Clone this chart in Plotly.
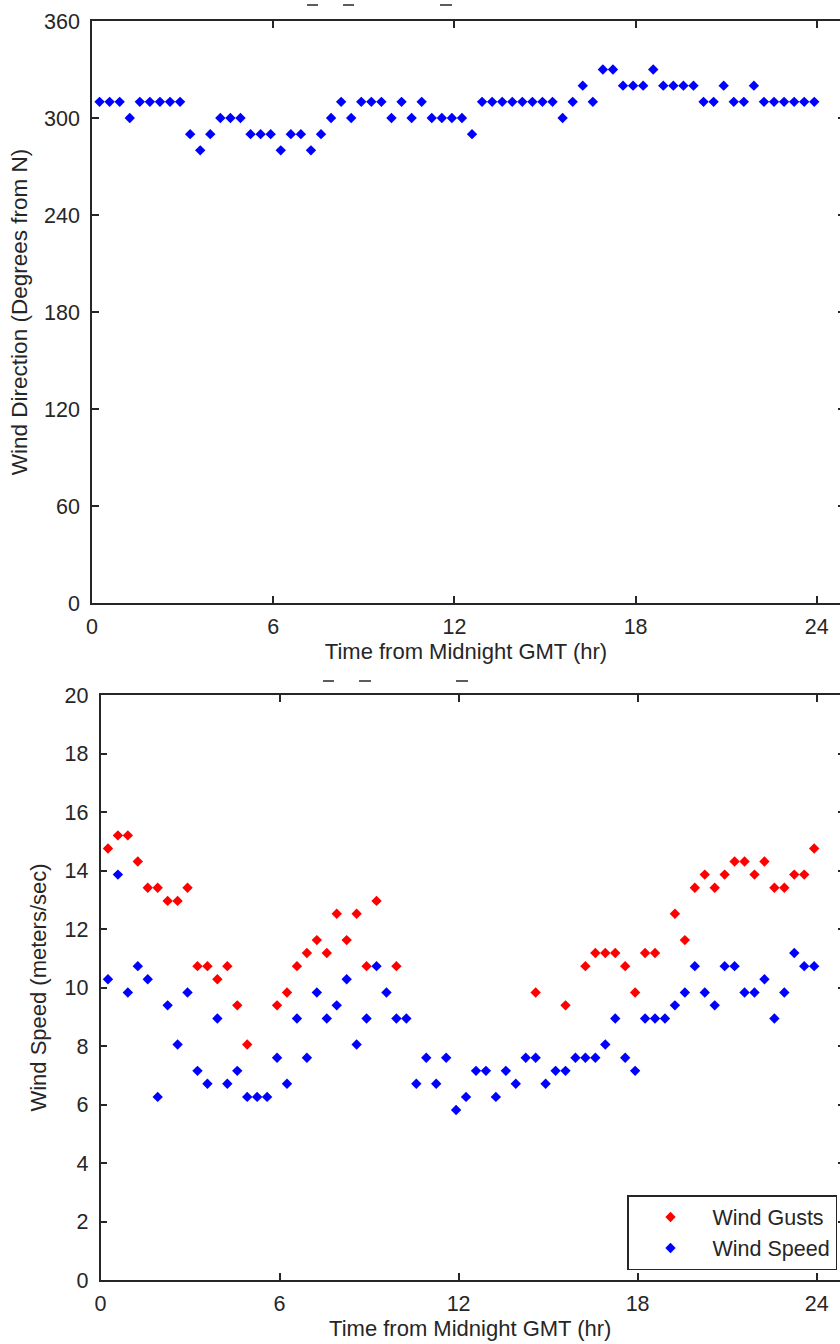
import plotly.graph_objects as go

# Observation times: three reports per hour, at :15, :35 and :55
HOURS = list(range(24))
OBS_MINUTES = [15, 35, 55]
time_hr = [h + m / 60 for h in HOURS for m in OBS_MINUTES]

# Wind direction (degrees from N)
wind_dir = [
    310, 310, 310, 300, 310, 310, 310, 310, 310, 290, 280, 290,
    300, 300, 300, 290, 290, 290, 280, 290, 290, 280, 290, 300,
    310, 300, 310, 310, 310, 300, 310, 300, 310, 300, 300, 300,
    300, 290, 310, 310, 310, 310, 310, 310, 310, 310, 300, 310,
    320, 310, 330, 330, 320, 320, 320, 330, 320, 320, 320, 320,
    310, 310, 320, 310, 310, 320, 310, 310, 310, 310, 310, 310,
]

# Sustained wind speed (m/s)
wind_speed = [
    10.28, 13.86, 9.83, 10.73, 10.28, 6.26, 9.39, 8.05, 9.83, 7.15, 6.71, 8.94,
    6.71, 7.15, 6.26, 6.26, 6.26, 7.60, 6.71, 8.94, 7.60, 9.83, 8.94, 9.39,
    10.28, 8.05, 8.94, 10.73, 9.83, 8.94, 8.94, 6.71, 7.60, 6.71, 7.60, 5.81,
    6.26, 7.15, 7.15, 6.26, 7.15, 6.71, 7.60, 7.60, 6.71, 7.15, 7.15, 7.60,
    7.60, 7.60, 8.05, 8.94, 7.60, 7.15, 8.94, 8.94, 8.94, 9.39, 9.83, 10.73,
    9.83, 9.39, 10.73, 10.73, 9.83, 9.83, 10.28, 8.94, 9.83, 11.18, 10.73, 10.73,
]

# Gusts (m/s); None where no gust was reported
wind_gust = [
    14.75, 15.20, 15.20, 14.31, 13.41, 13.41, 12.96, 12.96, 13.41, 10.73, 10.73, 10.28,
    10.73, 9.39, 8.05, None, None, 9.39, 9.83, 10.73, 11.18, 11.62, 11.18, 12.52,
    11.62, 12.52, 10.73, 12.96, None, 10.73, None, None, None, None, None, None,
    None, None, None, None, None, None, None, 9.83, None, None, 9.39, None,
    10.73, 11.18, 11.18, 11.18, 10.73, 9.83, 11.18, 11.18, None, 12.52, 11.62, 13.41,
    13.86, 13.41, 13.86, 14.31, 14.31, 13.86, 14.31, 13.41, 13.41, 13.86, 13.86, 14.75,
]

X_TICKS = [0, 6, 12, 18, 24]
DIR_TICKS = [0, 60, 120, 180, 240, 300, 360]
SPEED_TICKS = list(range(0, 21, 2))

W, H = 840, 1344
FONT = "Liberation Sans, Arial, sans-serif"
INK = "#262626"
TICK_SIZE = 21.5
TITLE_SIZE = 22
MARK = dict(symbol="diamond", size=8, line=dict(width=0))

fig = go.Figure()

fig.add_trace(go.Scatter(
    x=time_hr, y=wind_dir, mode="markers", xaxis="x", yaxis="y",
    marker=dict(color="#0000ff", **MARK), showlegend=False,
))
fig.add_trace(go.Scatter(
    x=time_hr, y=wind_gust, mode="markers", xaxis="x2", yaxis="y2",
    marker=dict(color="#ff0000", **MARK), name="Wind Gusts",
))
fig.add_trace(go.Scatter(
    x=time_hr, y=wind_speed, mode="markers", xaxis="x2", yaxis="y2",
    marker=dict(color="#0000ff", **MARK), name="Wind Speed",
))


def px_x(p):
    return p / W


def px_y(p):
    return 1 - p / H


axis_common = dict(
    showgrid=False, zeroline=False, showline=True, linecolor=INK, linewidth=1.5,
    ticks="inside", ticklen=7, tickcolor=INK, tickwidth=1.5, automargin=False,
    tickfont=dict(family=FONT, size=TICK_SIZE, color=INK),
)
right_ticks = dict(
    side="right", showticklabels=False, showgrid=False, zeroline=False,
    showline=False, ticks="inside", ticklen=2, tickcolor=INK, tickwidth=1.5,
    automargin=False,
)

# Top panel: wind direction
x0_top, x1_top = 92, 840
y0_top, y1_top = 21, 603
fig.update_layout(
    xaxis=dict(
        domain=[px_x(x0_top), 1], range=[0, (x1_top - x0_top) / 30.2],
        tickvals=X_TICKS, mirror="ticks", anchor="y", ticklabelstandoff=3,
        title=dict(text="Time from Midnight GMT (hr)", standoff=4,
                   font=dict(family=FONT, size=TITLE_SIZE, color=INK)),
        **axis_common,
    ),
    yaxis=dict(
        domain=[px_y(y1_top), px_y(y0_top)], range=[0, 360],
        tickvals=DIR_TICKS, anchor="x", ticklabelstandoff=6,
        title=dict(text="Wind Direction (Degrees from N)", standoff=10,
                   font=dict(family=FONT, size=22.5, color=INK)),
        **axis_common,
    ),
    yaxis3=dict(overlaying="y", anchor="x", range=[0, 360],
                tickvals=DIR_TICKS, **right_ticks),
)

# Bottom panel: wind speed and gusts
x0_bot, x1_bot = 100.5, 840
y0_bot, y1_bot = 695, 1280
fig.update_layout(
    xaxis2=dict(
        domain=[px_x(x0_bot), 1], range=[0, (x1_bot - x0_bot) / 29.84],
        tickvals=X_TICKS, mirror="ticks", anchor="y2", ticklabelstandoff=3,
        title=dict(text="Time from Midnight GMT (hr)", standoff=4,
                   font=dict(family=FONT, size=TITLE_SIZE, color=INK)),
        **axis_common,
    ),
    yaxis2=dict(
        domain=[px_y(y1_bot), px_y(y0_bot)], range=[0, 20],
        tickvals=SPEED_TICKS, anchor="x2", ticklabelstandoff=6,
        title=dict(text="Wind Speed (meters/sec)", standoff=12,
                   font=dict(family=FONT, size=TITLE_SIZE, color=INK)),
        **axis_common,
    ),
    yaxis4=dict(overlaying="y2", anchor="x2", range=[0, 20],
                tickvals=SPEED_TICKS, **right_ticks),
)

# Empty traces so the right-hand tick axes are drawn
fig.add_trace(go.Scatter(x=[], y=[], xaxis="x", yaxis="y3", showlegend=False))
fig.add_trace(go.Scatter(x=[], y=[], xaxis="x2", yaxis="y4", showlegend=False))

# Descender fragments of the clipped panel headings
for y_frag, segs in [(5, [(307, 318), (343, 354), (440, 452)]),
                     (681, [(323, 334), (359, 371), (456, 468)])]:
    for a, b in segs:
        fig.add_shape(type="line", xref="paper", yref="paper",
                      x0=px_x(a), x1=px_x(b), y0=px_y(y_frag), y1=px_y(y_frag),
                      line=dict(color=INK, width=1.5))

fig.update_layout(
    width=W, height=H, margin=dict(l=0, r=0, t=0, b=0, pad=0, autoexpand=False),
    paper_bgcolor="white", plot_bgcolor="white",
    font=dict(family=FONT, size=TICK_SIZE, color=INK),
    legend=dict(
        x=px_x(837), y=px_y(1270), xanchor="right", yanchor="bottom",
        bgcolor="white", bordercolor=INK, borderwidth=1.5,
        font=dict(family=FONT, size=TICK_SIZE, color=INK),
        itemwidth=74, tracegroupgap=0,
    ),
)

fig.write_html("out.html")
